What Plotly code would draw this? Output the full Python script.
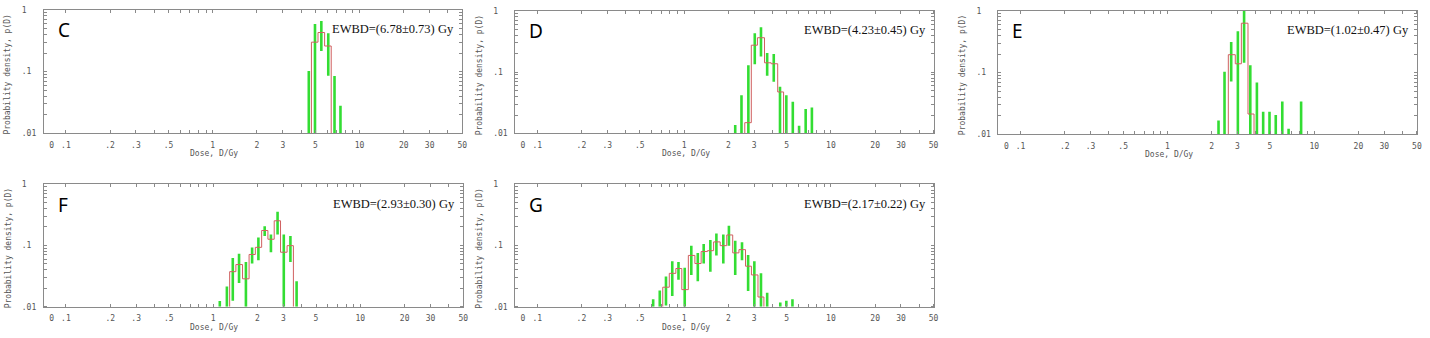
import plotly.graph_objects as go

# ---------------- data ----------------
FLOOR = 0.01

C_dose = [4.51, 4.97, 5.49, 6.12, 6.75, 7.41]
C_lo = [0.01, 0.01, 0.216, 0.0855, 0.01, 0.01]
C_hi = [0.102, 0.59, 0.66, 0.42, 0.085, 0.028]
C_edges = [4.70, 5.21, 5.78, 6.41]
C_vals = [0.30, 0.43, 0.26]
C_ewbd = "EWBD=(6.78\u00b10.73) Gy"

D_dose = [2.23, 2.46, 2.74, 3.03, 3.34, 3.68, 4.08, 4.50, 4.97, 5.50, 6.07, 6.73, 7.42]
D_lo = [0.01, 0.01, 0.01, 0.134, 0.18, 0.0875, 0.070, 0.01, 0.01, 0.01, 0.01, 0.01, 0.01]
D_hi = [0.0137, 0.042, 0.129, 0.43, 0.54, 0.205, 0.198, 0.058, 0.042, 0.033, 0.0134, 0.025, 0.0265]
D_edges = [2.59, 2.87, 3.16, 3.53, 3.92, 4.34, 4.76]
D_vals = [0.015, 0.275, 0.364, 0.142, 0.137, 0.0475]
D_ewbd = "EWBD=(4.23\u00b10.45) Gy"

E_dose = [2.23, 2.45, 2.72, 3.02, 3.33, 3.67, 4.07, 4.49, 4.96, 5.47, 6.06, 6.69, 8.14]
E_lo = [0.01, 0.01, 0.0717, 0.01, 0.145, 0.01, 0.01, 0.01, 0.01, 0.01, 0.01, 0.01, 0.01]
E_hi = [0.0168, 0.103, 0.313, 0.467, 1.1, 0.131, 0.069, 0.0233, 0.0233, 0.0206, 0.034, 0.0124, 0.034]
E_edges = [2.60, 2.90, 3.19, 3.54, 3.89]
E_vals = [0.195, 0.139, 0.63, 0.0214]
E_ewbd = "EWBD=(1.02\u00b10.47) Gy"

F_dose = [1.11, 1.24, 1.36, 1.50, 1.67, 1.84, 2.03, 2.24, 2.47, 2.74, 3.02, 3.35, 3.69]
F_lo = [0.01, 0.01, 0.0125, 0.0243, 0.01, 0.0506, 0.057, 0.142, 0.0774, 0.151, 0.01, 0.0537, 0.01]
F_hi = [0.0124, 0.0213, 0.062, 0.073, 0.0537, 0.092, 0.134, 0.205, 0.151, 0.355, 0.151, 0.142, 0.0259]
F_edges = [1.295, 1.428, 1.584, 1.755, 1.935, 2.136, 2.356, 2.60, 2.87, 3.18, 3.51]
F_vals = [0.0373, 0.0487, 0.0285, 0.0711, 0.093, 0.175, 0.126, 0.252, 0.0774, 0.099]
F_ewbd = "EWBD=(2.93\u00b10.30) Gy"

G_dose = [0.616, 0.683, 0.753, 0.831, 0.916, 1.01, 1.12, 1.24, 1.36, 1.51, 1.66,
          1.85, 2.02, 2.23, 2.48, 2.73, 3.01, 3.34, 3.68, 4.52, 4.97, 5.47]
G_lo = [0.01, 0.01, 0.0105, 0.015, 0.0275, 0.01, 0.033, 0.0259, 0.0506, 0.0373, 0.0686,
        0.0506, 0.099, 0.033, 0.057, 0.018, 0.01, 0.01, 0.01, 0.01, 0.01, 0.01]
G_hi = [0.0132, 0.0184, 0.031, 0.055, 0.0537, 0.043, 0.099, 0.0755, 0.105, 0.123, 0.157,
        0.151, 0.21, 0.119, 0.112, 0.070, 0.055, 0.035, 0.0169, 0.0117, 0.0125, 0.0132]
G_edges = [0.716, 0.793, 0.879, 0.965, 1.069, 1.185, 1.307, 1.442, 1.589, 1.762, 1.953,
           2.144, 2.364, 2.62, 2.875, 3.186, 3.496]
G_vals = [0.0208, 0.035, 0.042, 0.019, 0.0686, 0.0506, 0.0794, 0.082, 0.114, 0.099, 0.148,
          0.0755, 0.0853, 0.0458, 0.033, 0.0144]
G_ewbd = "EWBD=(2.17\u00b10.22) Gy"

X_TICKVALS = [0.08, 0.1, 0.2, 0.3, 0.5, 1, 2, 3, 5, 10, 20, 30, 50]
X_TICKTEXT = ["0", ".1", ".2", ".3", ".5", "1", "2", "3", "5", "10", "20", "30", "50"]
Y_TICKVALS = [0.01, 0.1, 1]
Y_TICKTEXT = [".01", ".1\u00a0", "1\u00a0\u00a0"]
X_TITLE = "Dose, D/Gy"
Y_TITLE = "Probability density, p(D)"

# ---------------- styling / layout ----------------
W, H = 1430, 338
GREEN = "#33dd33"
RED = "#d06060"
FRAME = "#8a8a8a"
TXT = "#555555"
MONO = "DejaVu Sans Mono"

panels = [
    ("C", C_dose, C_lo, C_hi, C_edges, C_vals, C_ewbd, (44, 464, 6, 133)),
    ("D", D_dose, D_lo, D_hi, D_edges, D_vals, D_ewbd, (517, 937, 7, 133)),
    ("E", E_dose, E_lo, E_hi, E_edges, E_vals, E_ewbd, (1002, 1422, 7, 134)),
    ("F", F_dose, F_lo, F_hi, F_edges, F_vals, F_ewbd, (44, 465, 185, 311)),
    ("G", G_dose, G_lo, G_hi, G_edges, G_vals, G_ewbd, (517, 937, 185, 311)),
]

minor_x = [k * 10.0 ** e for e in (-1, 0, 1) for k in range(1, 10) if k * 10.0 ** e <= 50]
minor_y = [k * 10.0 ** e for e in (-2, -1) for k in range(1, 10)]

fig = go.Figure()
annotations = []

def px(x):
    return x / W

def py(y):
    return 1 - y / H

for i, (label, dose, lo, hi, edges, vals, ewbd, (x0, x1, y0, y1)) in enumerate(panels):
    n = i + 1
    xa = "x" if n == 1 else f"x{n}"
    ya = "y" if n == 1 else f"y{n}"

    # green vertical bars
    gx, gy = [], []
    for d, a, b in zip(dose, lo, hi):
        gx += [d, d, None]
        gy += [a, b, None]
    fig.add_trace(go.Scatter(x=gx, y=gy, mode="lines", xaxis=xa, yaxis=ya,
                             line=dict(color=GREEN, width=2.6), showlegend=False,
                             hoverinfo="skip"))
    # red step histogram
    rx = [edges[0]] + list(edges)
    ry = [FLOOR] + list(vals) + [FLOOR]
    fig.add_trace(go.Scatter(x=rx, y=ry, mode="lines", xaxis=xa, yaxis=ya,
                             line=dict(color=RED, width=1, shape="hv"), showlegend=False,
                             hoverinfo="skip"))

    axis_common = dict(showline=True, linecolor=FRAME, linewidth=1, mirror="allticks",
                       showgrid=False, zeroline=False,
                       tickfont=dict(family=MONO, size=8, color=TXT))
    fig.layout[f"xaxis{'' if n == 1 else n}"] = dict(
        type="log", range=[-1.15, 1.70], domain=[px(x0), px(x1)], anchor=ya,
        tickmode="array", tickvals=X_TICKVALS, ticktext=X_TICKTEXT, ticks="",
        ticklabelstandoff=4,
        minor=dict(tickmode="array", tickvals=minor_x, ticks="inside", ticklen=3,
                   tickcolor=FRAME, showgrid=False),
        **axis_common)
    fig.layout[f"yaxis{'' if n == 1 else n}"] = dict(
        type="log", range=[-2, 0], domain=[py(y1), py(y0)], anchor=xa,
        tickmode="array", tickvals=Y_TICKVALS, ticktext=Y_TICKTEXT, ticks="",
        ticklabelstandoff=5,
        minor=dict(tickmode="array", tickvals=minor_y, ticks="inside", ticklen=3,
                   tickcolor=FRAME, showgrid=False),
        **axis_common)

    # panel letter
    annotations.append(dict(x=px(x0 + 12), y=py(y0 + 21), xref="paper", yref="paper",
                            text=label, showarrow=False, xanchor="left", yanchor="middle",
                            font=dict(family="Noto Sans", size=19, color="#000")))
    # EWBD text
    annotations.append(dict(x=px(x1 - 6), y=py(y0 + 20), xref="paper", yref="paper",
                            text=ewbd, showarrow=False, xanchor="right", yanchor="middle",
                            font=dict(family="Liberation Serif", size=12.5, color="#111")))
    # x title
    annotations.append(dict(x=px(x0 + 171), y=py(y1 + 21), xref="paper", yref="paper",
                            text=X_TITLE, showarrow=False, xanchor="center", yanchor="middle",
                            font=dict(family=MONO, size=8, color=TXT)))
    # y title
    annotations.append(dict(x=px(x0 - 36), y=py((y0 + y1) / 2 + 3), xref="paper", yref="paper",
                            text=Y_TITLE, showarrow=False, textangle=-90,
                            xanchor="center", yanchor="middle",
                            font=dict(family=MONO, size=8, color=TXT)))

fig.update_layout(width=W, height=H, margin=dict(l=0, r=0, t=0, b=0),
                  paper_bgcolor="white", plot_bgcolor="white",
                  annotations=annotations)

fig.write_html("out.html", config={"displayModeBar": False},
               post_script="document.body.style.margin='0px';")
